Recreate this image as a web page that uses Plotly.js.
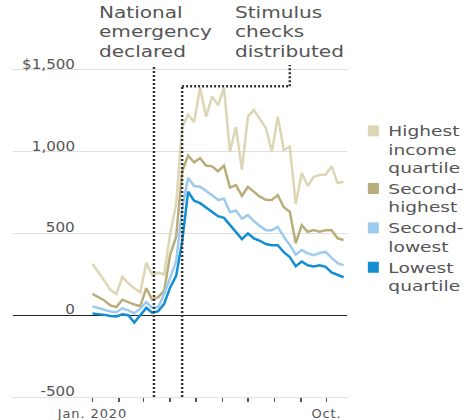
<!DOCTYPE html>
<html><head><meta charset="utf-8">
<script src="https://cdn.plot.ly/plotly-3.0.1.min.js"></script>
<style>
html,body{margin:0;padding:0;background:#fff;}
#chart{width:467px;height:420px;}
#chart .legend .legendtext{transform:scaleX(1.33);transform-box:fill-box;transform-origin:left center;}
#chart .legend .scrollbox{clip-path:none !important;}
#chart .legend .legendpoints{transform:translateX(5px);}
#chart g.annotation[data-index="5"] text, #chart g.annotation[data-index="6"] text{transform:scaleX(1.34);transform-box:fill-box;transform-origin:left top;}
#chart .xtick text{letter-spacing:0.9px;}
#chart g.annotation[data-index="0"] text, #chart g.annotation[data-index="1"] text, #chart g.annotation[data-index="2"] text, #chart g.annotation[data-index="3"] text, #chart g.annotation[data-index="4"] text{transform:scaleX(1.08);transform-box:fill-box;transform-origin:right bottom;}
</style>
</head><body><div id="chart"></div>
<script>
const dates = ["2020-01-01","2020-01-08","2020-01-15","2020-01-22","2020-01-29","2020-02-05","2020-02-12","2020-02-19","2020-02-26","2020-03-04","2020-03-11","2020-03-18","2020-03-25","2020-04-01","2020-04-08","2020-04-15","2020-04-22","2020-04-29","2020-05-06","2020-05-13","2020-05-20","2020-05-27","2020-06-03","2020-06-10","2020-06-17","2020-06-24","2020-07-01","2020-07-08","2020-07-15","2020-07-22","2020-07-29","2020-08-05","2020-08-12","2020-08-19","2020-08-26","2020-09-02","2020-09-09","2020-09-16","2020-09-23","2020-09-30","2020-10-07","2020-10-14","2020-10-21"];
const highest = [315,265,210,155,130,234,195,165,140,320,245,260,250,500,680,1150,1225,1180,1390,1214,1336,1285,1390,1000,1150,890,1214,1255,1200,1144,1000,1214,1010,1030,680,869,790,846,857,860,910,808,816];
const secondHighest = [130,110,90,60,50,95,80,65,55,165,95,110,150,370,480,880,975,935,960,915,910,880,915,780,795,730,785,755,725,705,704,734,660,632,440,550,510,520,510,520,520,470,460];
const secondLowest = [55,45,32,22,18,42,30,12,40,80,45,50,130,234,330,650,840,790,785,760,730,705,712,630,640,590,612,575,545,520,520,540,480,430,370,398,378,367,380,387,350,318,305];
const lowest = [10,8,2,-5,-8,5,0,-45,0,45,15,25,70,170,240,450,755,700,685,660,635,605,595,550,510,465,500,470,455,435,428,428,385,355,300,328,305,298,305,296,262,245,232];

const seriesNames = ["Highest<br>income<br>quartile","Second-<br>highest","Second-<br>lowest","Lowest<br>quartile"];
const seriesColors = ["#dcd6b4","#b8ad7b","#9dcbee","#128fd3"];
const seriesData = [highest, secondHighest, secondLowest, lowest];

const yTickVals = [-500, 0, 500, 1000, 1500];
const yTickText = ["-500", "0", "500", "1,000", "$1,500"];
const xTickVals = ["2020-01-01","2020-02-01","2020-03-01","2020-04-01","2020-05-01","2020-06-01","2020-07-01","2020-08-01","2020-09-01","2020-10-01"];
const xTickText = ["Jan. 2020","","","","","","","","","Oct."];

const emergencyDate = "2020-03-13";
const stimulusDate = "2020-04-15";
const stimulusLabelDate = "2020-08-19";
const markerLow = -500, markerTop = 1530, stimulusShelf = 1400;

const FONT = "DejaVu Sans";
const GRAY = "#555";

const traces = [];
seriesData.forEach((d, i) => {
  traces.push({x: dates, y: d, type: "scatter", mode: "lines", line: {color: seriesColors[i], width: 2.5}, showlegend: false, hoverinfo: "skip"});
});
seriesData.forEach((d, i) => {
  traces.push({x: [null], y: [null], type: "scatter", mode: "markers", name: seriesNames[i],
    marker: {symbol: "square", size: 11, color: seriesColors[i]}, showlegend: true});
});

const dotLine = {color: "#333", width: 2.5, dash: "2px,2px"};
const shapes = [
  {type: "line", xref: "x", yref: "y", x0: emergencyDate, x1: emergencyDate, y0: markerLow, y1: markerTop, line: dotLine},
  {type: "line", xref: "x", yref: "y", x0: stimulusDate, x1: stimulusDate, y0: markerLow, y1: stimulusShelf, line: dotLine},
  {type: "line", xref: "x", yref: "y", x0: stimulusDate, x1: stimulusLabelDate, y0: stimulusShelf, y1: stimulusShelf, line: dotLine},
  {type: "line", xref: "x", yref: "y", x0: stimulusLabelDate, x1: stimulusLabelDate, y0: stimulusShelf, y1: markerTop, line: dotLine}
];

const annotations = yTickVals.map((v, i) => ({
  xref: "paper", yref: "y", x: 0.192, y: v, text: yTickText[i], showarrow: false,
  xanchor: "right", yanchor: "bottom", yshift: -4, font: {family: FONT, size: 14, color: GRAY}
}));
annotations.push({xref: "paper", yref: "paper", x: 0.25, y: 1.172, xanchor: "left", yanchor: "top", align: "left",
  text: "National<br>emergency<br>declared", showarrow: false, font: {family: FONT, size: 15, color: GRAY}});
annotations.push({xref: "paper", yref: "paper", x: 0.658, y: 1.172, xanchor: "left", yanchor: "top", align: "left",
  text: "Stimulus<br>checks<br>distributed", showarrow: false, font: {family: FONT, size: 15, color: GRAY}});

const layout = {
  width: 467, height: 420,
  margin: {l: 13, r: 120, t: 60, b: 23},
  paper_bgcolor: "#fff", plot_bgcolor: "#fff",
  font: {family: FONT, color: GRAY},
  xaxis: {type: "date", range: ["2019-09-30", "2020-10-25"], tickvals: xTickVals, ticktext: xTickText,
    ticks: "outside", ticklen: 4, tickwidth: 1.5, tickcolor: "#555", showgrid: false, zeroline: false,
    showline: true, linecolor: "#e0e0e0", linewidth: 1, tickfont: {family: FONT, size: 13, color: GRAY}, fixedrange: true},
  yaxis: {range: [-500, 1560], tickvals: yTickVals, showticklabels: false, showgrid: true, gridcolor: "#e0e0e0",
    gridwidth: 1, zeroline: true, zerolinecolor: "#222", zerolinewidth: 1.3, fixedrange: true},
  showlegend: true,
  legend: {x: 1.004, y: 0.836, xanchor: "left", yanchor: "top", valign: "top", font: {family: FONT, size: 14, color: GRAY},
    bgcolor: "rgba(0,0,0,0)", tracegroupgap: 0, itemclick: false},
  shapes: shapes,
  annotations: annotations
};

Plotly.newPlot("chart", traces, layout, {displayModeBar: false, staticPlot: true});
</script>
</body></html>
